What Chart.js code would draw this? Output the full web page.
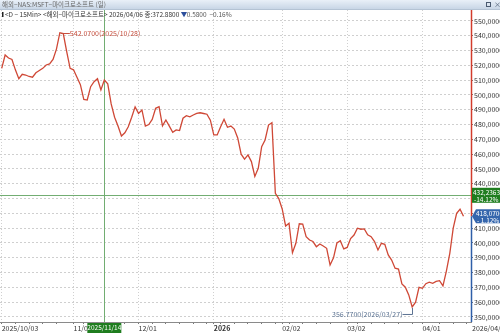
<!DOCTYPE html>
<meta charset="utf-8">
<style>
html, body {
  margin: 0;
  background: #fff;
}

canvas {
  display: block;
}
</style>
<body>

<canvas id="chart" width="500" height="333"></canvas>

<script src="https://cdn.jsdelivr.net/npm/chart.js@4/dist/chart.umd.min.js"></script>
<script type="text/javascript">
"use strict";

/* global Chart, document */

// daily closes, MSFT, 2025/10/03 .. 2026/04
var closes = [
  518, 527, 525, 524, 517, 511, 514, 513.5, 512.5, 512,
  515, 516.5, 518, 520.3, 521, 524, 531, 542.07, 541.5, 529.3,
  518, 517, 512, 507, 497, 496.6, 505.6, 509, 511, 503.4,
  510.1, 507.5, 494, 485, 479, 472.3, 474.5, 478.5, 485, 492,
  487.6, 489.9, 479, 480, 483.5, 491, 492.1, 479.1, 483.1, 479,
  474.8, 476.4, 476, 484.3, 486, 485.3, 486.5, 487.6, 488, 487.5,
  487, 483, 473, 473, 478.6, 483.6, 478.2, 479, 477, 471,
  460, 456.6, 459.5, 455, 445, 450.5, 465.1, 469.6, 479.7, 481.3,
  433.6, 430, 423, 411.5, 413.3, 393.4, 399.8, 413, 412.8, 404.3,
  402, 401, 397.5, 399.3, 398, 396.4, 385.1, 390, 400, 401.6,
  396, 397, 403, 405.4, 410, 409.3, 409.5, 405.5, 404.3, 401,
  395.3, 399.8, 399.1, 391.9, 388.5, 383, 382.4, 372.3, 370.1, 364.9,
  356.77, 360, 370, 369.4, 372.5, 373.5, 372.8, 374, 374.5, 371,
  381, 393, 410, 420, 422.8, 418.07
];

var xTickIdx  = [0, 21, 40, 62, 82, 101, 123];
var xTickText = ["2025/10/03", "11/03", "12/01", "2026", "02/02", "03/02", "04/01"];
var yTicks = [350, 360, 370, 380, 390, 400, 410, 420, 430, 440, 450,
              460, 470, 480, 490, 500, 510, 520, 530, 540, 550];

var cursorIdx = 30;
var cursorDate = "2025/11/14";
var cursorPrice = 432.2363;
var cursorPct = "-14.12%";
var lastPrice = 418.07;
var lastPct = "- 1.12%";
var lastDate = "2026/04/20";
var maxText = "542.0700(2025/10/28)";
var minText = "356.7700(2026/03/27)";

var titleText = "해외−NAS:MSFT−마이크로소프트 (일)";
var infoText = "<D − 15Min> <해외−마이크로소프트> 2026/04/06 종:372.8800 ";
var infoChange = "0.5800  −0.16%";

var FONT = '"Liberation Sans Narrow", "Arial Narrow", "Noto Sans CJK KR", sans-serif';
var CJK = '"Noto Sans CJK KR", "Liberation Sans Narrow", sans-serif';

function fmt(v) {
  return v.toFixed(4).replace(".", ",");
}

var htsPlugin = {
  id: "hts",

  beforeDatasetsDraw: function (chart) {
    var ctx = chart.ctx, a = chart.chartArea;
    var xs = chart.scales.x, ys = chart.scales.y;
    var cx = Math.round(xs.getPixelForValue(cursorIdx)) + 0.5;
    var cy = Math.round(ys.getPixelForValue(cursorPrice)) + 0.5;

    ctx.save();
    ctx.strokeStyle = "#72ad72";
    ctx.lineWidth = 1;
    ctx.beginPath();
    ctx.moveTo(cx, a.top);
    ctx.lineTo(cx, a.bottom);
    ctx.moveTo(a.left, cy);
    ctx.lineTo(a.right, cy);
    ctx.stroke();
    ctx.restore();
  },

  afterDraw: function (chart) {
    var ctx = chart.ctx, a = chart.chartArea;
    var xs = chart.scales.x, ys = chart.scales.y;
    var W = chart.width;
    var i, g, px, py, lastY, cy, cx, maxI = 0, minI = 0;

    ctx.save();

    // title bar
    g = ctx.createLinearGradient(0, 0, 0, 9);
    g.addColorStop(0, "#e9f0f8");
    g.addColorStop(1, "#c8d6e6");
    ctx.fillStyle = g;
    ctx.fillRect(0, 0, W, 9);
    ctx.fillStyle = "#b4c3d4";
    ctx.fillRect(0, 9, W, 1);
    ctx.font = "6.5px " + CJK;
    ctx.fillStyle = "#666";
    ctx.textBaseline = "middle";
    ctx.fillText(titleText, 2, 4.5);
    ctx.strokeStyle = "#4a5a70";
    ctx.lineWidth = 1;
    ctx.strokeRect(486.5, 2.5, 4, 4);
    ctx.font = "7px " + FONT;
    ctx.fillStyle = "#4a5a70";
    ctx.fillText("×", 494, 4.5);

    // info line
    ctx.fillStyle = "#222";
    ctx.fillRect(2, 12, 1.5, 5);
    ctx.font = "6.5px " + CJK;
    ctx.fillStyle = "#333";
    ctx.fillText(infoText, 5, 14.5);
    var w = ctx.measureText(infoText).width;
    ctx.fillStyle = "#2c4f9c";
    ctx.fillText("▼", 5 + w, 14.5);
    ctx.fillStyle = "#555";
    ctx.fillText(infoChange, 5 + w + 6, 14.5);

    // right axis line: red above last price, blue below
    lastY = ys.getPixelForValue(lastPrice);
    ctx.lineWidth = 1.5;
    ctx.strokeStyle = "#d23c2c";
    ctx.beginPath();
    ctx.moveTo(a.right + 0.5, a.top);
    ctx.lineTo(a.right + 0.5, lastY);
    ctx.stroke();
    ctx.strokeStyle = "#2f5fa8";
    ctx.beginPath();
    ctx.moveTo(a.right + 0.5, lastY);
    ctx.lineTo(a.right + 0.5, a.bottom);
    ctx.stroke();

    // cursor price box
    cy = ys.getPixelForValue(cursorPrice);
    ctx.fillStyle = "#1f7d1f";
    ctx.fillRect(a.right + 1, cy - 7.5, W - a.right - 1, 15);
    ctx.font = "6.5px " + FONT;
    ctx.fillStyle = "#fff";
    ctx.textAlign = "left";
    ctx.fillText(fmt(cursorPrice), a.right + 2, cy - 3);
    ctx.fillText(cursorPct, a.right + 3, cy + 4);

    // last price box
    ctx.fillStyle = "#3566ad";
    ctx.beginPath();
    ctx.moveTo(a.right + 1, lastY);
    ctx.lineTo(a.right + 5, lastY - 7);
    ctx.lineTo(W, lastY - 7);
    ctx.lineTo(W, lastY + 7);
    ctx.lineTo(a.right + 5, lastY + 7);
    ctx.closePath();
    ctx.fill();
    ctx.fillStyle = "#fff";
    ctx.fillText(fmt(lastPrice), a.right + 5, lastY - 3);
    ctx.fillText(lastPct, a.right + 6, lastY + 4);

    // cursor date box
    cx = xs.getPixelForValue(cursorIdx);
    ctx.fillStyle = "#1f7d1f";
    ctx.fillRect(cx - 17, a.bottom + 1, 34, 10);
    ctx.fillStyle = "#fff";
    ctx.textAlign = "center";
    ctx.fillText(cursorDate, cx, a.bottom + 6);

    // last date under the price axis
    ctx.font = "7px " + FONT;
    ctx.fillStyle = "#333";
    ctx.textAlign = "left";
    ctx.fillText(lastDate, a.right + 1, a.bottom + 6);

    // high / low marks
    for (i = 1; i < closes.length; i++) {
      if (closes[i] > closes[maxI]) maxI = i;
      if (closes[i] < closes[minI]) minI = i;
    }
    ctx.lineWidth = 1;

    px = xs.getPixelForValue(maxI);
    py = Math.round(ys.getPixelForValue(closes[maxI])) + 0.5;
    ctx.strokeStyle = "#c8503f";
    ctx.beginPath();
    ctx.moveTo(px + 1, py);
    ctx.lineTo(px + 10, py);
    ctx.stroke();
    ctx.fillStyle = "#c8503f";
    ctx.fillText(maxText, px + 10, py);

    px = Math.round(xs.getPixelForValue(minI)) + 0.5;
    py = ys.getPixelForValue(closes[minI]);
    ctx.strokeStyle = "#5c7392";
    ctx.beginPath();
    ctx.moveTo(px, py + 1);
    ctx.lineTo(px, py + 7.5);
    ctx.lineTo(px - 10, py + 7.5);
    ctx.stroke();
    ctx.fillStyle = "#5c7392";
    ctx.textAlign = "right";
    ctx.fillText(minText, px - 10, py + 7.5);

    ctx.restore();
  }
};

var chart = new Chart(document.getElementById("chart"), {
  type: "line",
  data: {
    labels: closes.map(function (d, i) { return i; }),
    datasets: [{
      data: closes,
      borderColor: "#cf4836",
      borderWidth: 1.3,
      pointRadius: 0,
      tension: 0,
      fill: false
    }]
  },
  options: {
    responsive: false,
    animation: false,
    devicePixelRatio: 1,
    layout: { padding: { top: 10, left: 0, right: 0, bottom: 0 } },
    plugins: {
      legend: { display: false },
      tooltip: { enabled: false }
    },
    scales: {
      x: {
        type: "linear",
        min: -0.5,
        max: 137.2,
        afterFit: function (s) { s.height = 11; },
        afterBuildTicks: function (s) {
          var ticks = xTickIdx.map(function (v) { return { value: v }; });
          for (var v = 4; v < 137; v += 4) {
            var near = xTickIdx.some(function (m) { return Math.abs(m - v) < 2; });
            if (!near) ticks.push({ value: v });
          }
          ticks.sort(function (p, q) { return p.value - q.value; });
          s.ticks = ticks;
        },
        border: { display: true, color: "#8a8a8a", width: 1, dash: [1, 2] },
        grid: {
          color: function (c) {
            return c.tick && xTickIdx.indexOf(c.tick.value) >= 0 ? "#d0d0d0" : "rgba(0,0,0,0)";
          },
          tickBorderDash: [],
          tickColor: "#777",
          tickLength: 2,
          drawTicks: true
        },
        ticks: {
          autoSkip: false,
          maxRotation: 0,
          align: "start",
          padding: 0,
          color: "#333",
          font: function (c) {
            var k = c.tick ? xTickIdx.indexOf(c.tick.value) : -1;
            return { family: FONT, size: 7, weight: k >= 0 && xTickText[k] === "2026" ? "bold" : "normal" };
          },
          callback: function (v) {
            var k = xTickIdx.indexOf(v);
            return k >= 0 ? xTickText[k] : "";
          }
        }
      },
      y: {
        position: "right",
        min: 346.62,
        max: 557.43,
        afterFit: function (s) { s.width = 29; },
        afterBuildTicks: function (s) {
          s.ticks = yTicks.map(function (v) { return { value: v }; });
        },
        border: { display: false, dash: [2, 2] },
        grid: {
          color: "#cfcfcf",
          tickBorderDash: [],
          tickColor: "#777",
          tickLength: 2
        },
        ticks: {
          padding: 1,
          color: "#333",
          font: { family: FONT, size: 7 },
          callback: function (v) { return fmt(v); }
        }
      }
    }
  },
  plugins: [htsPlugin]
});
</script>
</body>
